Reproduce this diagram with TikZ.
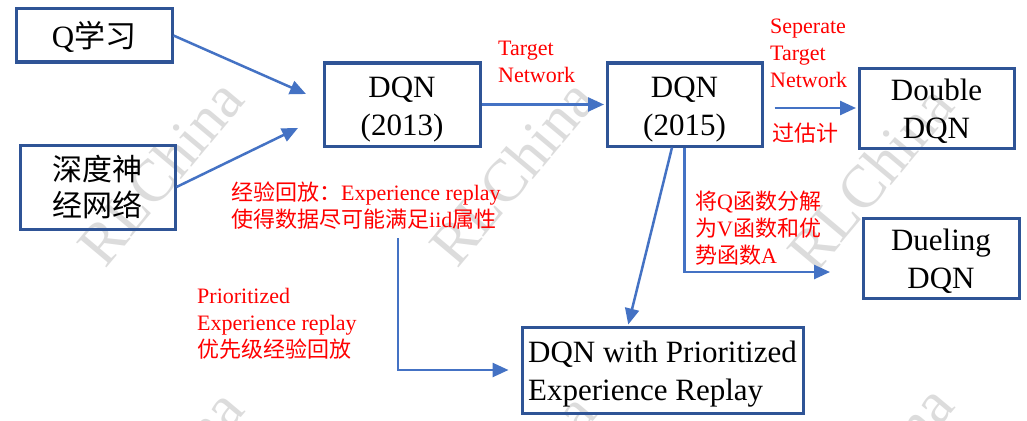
\documentclass[tikz,border=0pt]{standalone}
\usepackage{fontspec}
\setmainfont{Liberation Serif}
\newfontfamily\cjk{Noto Sans CJK SC}
\usetikzlibrary{arrows.meta}
\definecolor{boxblue}{RGB}{47,84,150}
\definecolor{arrblue}{RGB}{68,114,196}
\definecolor{wm}{RGB}{220,220,220}
% box text lowered a little, keeping its reported size
\newcommand\bxt[2]{\raisebox{-4pt}[\height][\depth]{\begin{tabular}{@{}#1@{}}#2\end{tabular}}}
\begin{document}
\begin{tikzpicture}[x=1pt,y=-1pt,
  box/.style={draw=boxblue,line width=3pt,align=center,inner sep=0pt,font=\fontsize{31}{38}\selectfont},
  lab/.style={text=red,align=left,anchor=base west,inner sep=0pt,font=\fontsize{22}{27}\selectfont},
  arr/.style={draw=arrblue,line width=2.5pt,-{Triangle[length=16pt,width=14pt]}},
  wmark/.style={text=wm,rotate=50,font=\fontsize{60}{60}\selectfont}]
\fill[white] (0,0) rectangle (1027,420);
\useasboundingbox (0,0) rectangle (1027,420);
% watermarks
\node[wmark] (w1) at (160,172) {RLChina};
\node[wmark] (w2) at (512,172) {RLChina};
\node[wmark] (w3) at (870,178) {RLChina};
\node[wmark] (w4) at (160,482) {RLChina};
\node[wmark] (w5) at (512,486) {RLChina};
\node[wmark] (w6) at (870,478) {RLChina};
% boxes
\node[box,minimum width=156pt,minimum height=53pt] (q) at (94,35.5) {\bxt{c}{Q{\cjk 学习}}};
\node[box,minimum width=155pt,minimum height=84pt,font=\fontsize{30}{35}\selectfont\cjk] (dnn) at (97.5,187) {\bxt{c}{深度神\\经网络}};
\node[box,minimum width=156pt,minimum height=83pt] (d13) at (402,104.5) {\bxt{c}{DQN\\(2013)}};
\node[box,minimum width=155pt,minimum height=83pt] (d15) at (684.5,104.5) {\bxt{c}{DQN\\(2015)}};
\node[box,minimum width=155pt,minimum height=80pt] (dbl) at (936.5,108) {\bxt{c}{Double\\DQN}};
\node[box,minimum width=156pt,minimum height=80pt] (duel) at (941,258) {\bxt{c}{Dueling\\DQN}};
\node[box,minimum width=281pt,minimum height=86pt] (per) at (662.5,370) {\bxt{l}{DQN with Prioritized\\Experience Replay}};
% connector ends
\coordinate (qt) at (306,94);
\coordinate (dt) at (298,128);
\coordinate (duelt) at (830,272);
\coordinate (es) at (398,238);
% arrows
\draw[arr] (q.east) -- (qt);
\draw[arr] (dnn.east) -- (dt);
\draw[arr,shorten >=1.5pt] (d13.east) -- (d15.west);
\draw[arr,shorten >=1.5pt] ([xshift=11pt]d15.east |- dbl.west) -- (dbl.west);
\draw[arr] (d15.south) |- (duelt);
\draw[arr,shorten >=1pt] ([xshift=-12.5pt]d15.south) -- ([xshift=-34.5pt]per.north);
\draw[arr,shorten >=12pt] (es) |- (per.west);
% labels (anchor = baseline of last line)
\node[lab] (l1) at (498,82) {Target\\Network};
\node[lab] (l2) at (770,87) {Seperate\\Target\\Network};
\node[lab] (l3) at (772,141) {\cjk 过估计};
\node[lab] (l4) at (231,227) {{\cjk 经验回放：}Experience replay\\{\cjk 使得数据尽可能满足}iid{\cjk 属性}};
\node[lab] (l5) at (695,263) {{\cjk 将}Q{\cjk 函数分解}\\{\cjk 为}V{\cjk 函数和优}\\{\cjk 势函数}A};
\node[lab] (l6) at (197,357) {Prioritized\\Experience replay\\{\cjk 优先级经验回放}};
\end{tikzpicture}
\end{document}
